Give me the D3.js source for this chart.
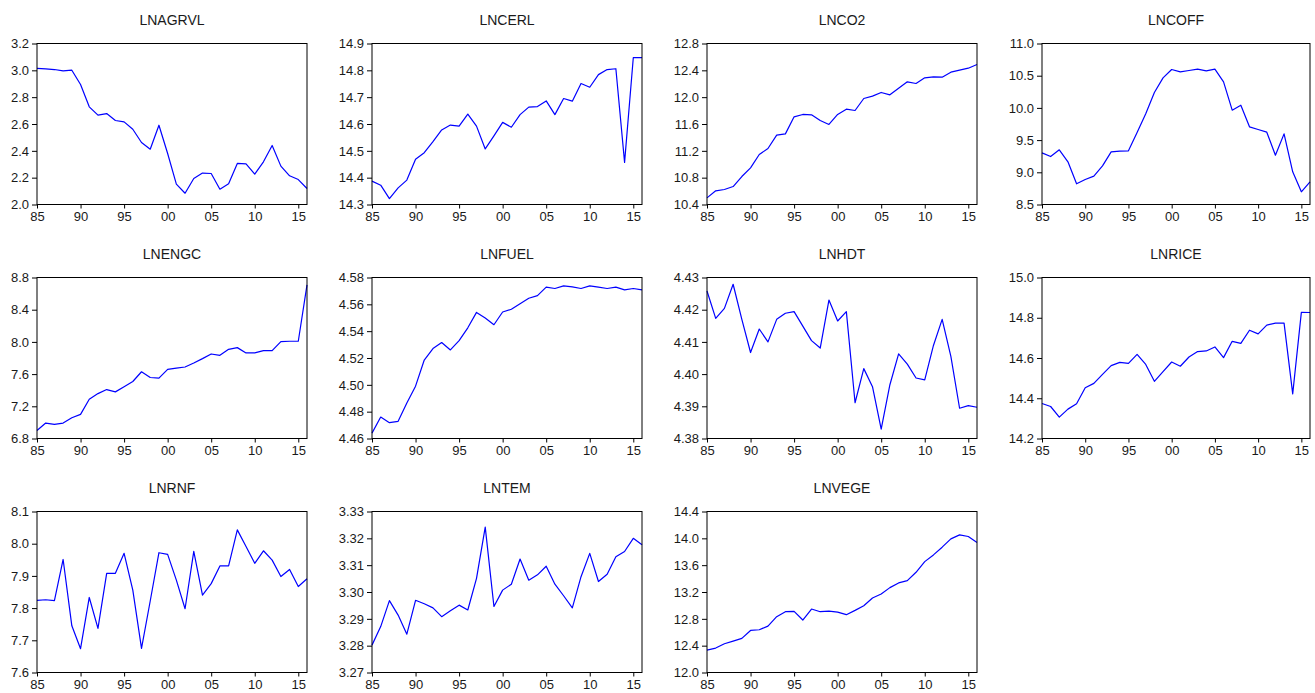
<!DOCTYPE html>
<html>
<head>
<meta charset="utf-8">
<script src="https://cdn.jsdelivr.net/npm/d3@7"></script>
<style>
  html, body { margin: 0; padding: 0; background: #fff; }
  svg text { font-family: "Liberation Sans", Arial, sans-serif; fill: #1a1a1a; }
</style>
</head>
<body>
<svg id="chart" width="1315" height="693"></svg>
<script>
// Annual observations, 1985-2016
const years = d3.range(1985, 2017);
const yearTicks = [1985, 1990, 1995, 2000, 2005, 2010, 2015];

const lnagrvl = [3.014, 3.011, 3.006, 2.996, 3.001, 2.894, 2.728, 2.666, 2.678, 2.626, 2.616, 2.561, 2.462, 2.412, 2.591, 2.380,
  2.152, 2.084, 2.194, 2.234, 2.231, 2.114, 2.154, 2.306, 2.303, 2.226, 2.318, 2.440, 2.286, 2.214, 2.186, 2.119];
const lncerl = [14.387, 14.372, 14.322, 14.362, 14.391, 14.469, 14.493, 14.534, 14.578, 14.596, 14.592, 14.637, 14.592, 14.507, 14.556, 14.606,
  14.588, 14.635, 14.663, 14.665, 14.686, 14.635, 14.695, 14.685, 14.751, 14.737, 14.784, 14.803, 14.806, 14.457, 14.847, 14.847];
const lnco2 = [10.499, 10.604, 10.624, 10.668, 10.817, 10.947, 11.145, 11.235, 11.434, 11.453, 11.707, 11.742, 11.737, 11.652, 11.593, 11.742,
  11.821, 11.801, 11.980, 12.015, 12.070, 12.035, 12.134, 12.229, 12.204, 12.288, 12.303, 12.298, 12.373, 12.402, 12.432, 12.487];
const lncoff = [9.302, 9.245, 9.349, 9.163, 8.821, 8.888, 8.940, 9.100, 9.318, 9.328, 9.333, 9.618, 9.908, 10.239, 10.467, 10.596,
  10.560, 10.581, 10.601, 10.575, 10.601, 10.405, 9.965, 10.042, 9.706, 9.665, 9.623, 9.266, 9.597, 9.007, 8.697, 8.852];
const lnengc = [6.900, 6.992, 6.975, 6.992, 7.058, 7.100, 7.288, 7.358, 7.408, 7.379, 7.442, 7.508, 7.629, 7.558, 7.550, 7.658,
  7.675, 7.688, 7.738, 7.792, 7.850, 7.833, 7.908, 7.929, 7.863, 7.863, 7.892, 7.892, 8.004, 8.008, 8.008, 8.708];
const lnfuel = [4.4640, 4.4760, 4.4718, 4.4728, 4.4865, 4.4990, 4.5185, 4.5270, 4.5315, 4.5260, 4.5330, 4.5425, 4.5540, 4.5498, 4.5448, 4.5543,
  4.5563, 4.5605, 4.5645, 4.5665, 4.5728, 4.5718, 4.5738, 4.5730, 4.5718, 4.5738, 4.5728, 4.5718, 4.5728, 4.5708, 4.5718, 4.5708];
const lnhdt = [4.4258, 4.4173, 4.4204, 4.4279, 4.4170, 4.4067, 4.4140, 4.4100, 4.4170, 4.4189, 4.4194, 4.4149, 4.4104, 4.4081, 4.4230, 4.4165,
  4.4194, 4.3911, 4.4017, 4.3961, 4.3829, 4.3967, 4.4063, 4.4031, 4.3988, 4.3982, 4.4089, 4.4170, 4.4055, 4.3894, 4.3902, 4.3897];
const lnrice = [14.374, 14.359, 14.306, 14.346, 14.373, 14.452, 14.474, 14.519, 14.562, 14.578, 14.573, 14.618, 14.568, 14.484, 14.532, 14.580,
  14.559, 14.605, 14.632, 14.635, 14.655, 14.602, 14.683, 14.673, 14.738, 14.720, 14.763, 14.773, 14.773, 14.422, 14.827, 14.826];
const lnrnf = [7.824, 7.826, 7.823, 7.951, 7.745, 7.674, 7.833, 7.737, 7.908, 7.908, 7.970, 7.856, 7.675, 7.822, 7.972, 7.967,
  7.887, 7.798, 7.976, 7.840, 7.876, 7.931, 7.931, 8.043, 7.991, 7.939, 7.978, 7.949, 7.898, 7.920, 7.867, 7.891];
const lntem = [3.2802, 3.2871, 3.2968, 3.2914, 3.2843, 3.2969, 3.2956, 3.2941, 3.2908, 3.2930, 3.2951, 3.2933, 3.3051, 3.3242, 3.2946, 3.3007,
  3.3029, 3.3123, 3.3044, 3.3064, 3.3096, 3.3029, 3.2986, 3.2941, 3.3057, 3.3144, 3.3039, 3.3066, 3.3131, 3.3151, 3.3200, 3.3176];
const lnvege = [12.334, 12.364, 12.428, 12.468, 12.508, 12.627, 12.637, 12.692, 12.832, 12.906, 12.911, 12.782, 12.946, 12.906, 12.916, 12.901,
  12.862, 12.926, 12.996, 13.111, 13.170, 13.265, 13.335, 13.370, 13.494, 13.653, 13.753, 13.868, 13.992, 14.052, 14.027, 13.937];

// Y-axis tick labels for each series
const ticksAgrvl = ["2.0", "2.2", "2.4", "2.6", "2.8", "3.0", "3.2"];
const ticksCerl = ["14.3", "14.4", "14.5", "14.6", "14.7", "14.8", "14.9"];
const ticksCo2 = ["10.4", "10.8", "11.2", "11.6", "12.0", "12.4", "12.8"];
const ticksCoff = ["8.5", "9.0", "9.5", "10.0", "10.5", "11.0"];
const ticksEngc = ["6.8", "7.2", "7.6", "8.0", "8.4", "8.8"];
const ticksFuel = ["4.46", "4.48", "4.50", "4.52", "4.54", "4.56", "4.58"];
const ticksHdt = ["4.38", "4.39", "4.40", "4.41", "4.42", "4.43"];
const ticksRice = ["14.2", "14.4", "14.6", "14.8", "15.0"];
const ticksRnf = ["7.6", "7.7", "7.8", "7.9", "8.0", "8.1"];
const ticksTem = ["3.27", "3.28", "3.29", "3.30", "3.31", "3.32", "3.33"];
const ticksVege = ["12.0", "12.4", "12.8", "13.2", "13.6", "14.0", "14.4"];

const panels = [
  { name: "LNAGRVL", values: lnagrvl, ticks: ticksAgrvl },
  { name: "LNCERL", values: lncerl, ticks: ticksCerl },
  { name: "LNCO2", values: lnco2, ticks: ticksCo2 },
  { name: "LNCOFF", values: lncoff, ticks: ticksCoff },
  { name: "LNENGC", values: lnengc, ticks: ticksEngc },
  { name: "LNFUEL", values: lnfuel, ticks: ticksFuel },
  { name: "LNHDT", values: lnhdt, ticks: ticksHdt },
  { name: "LNRICE", values: lnrice, ticks: ticksRice },
  { name: "LNRNF", values: lnrnf, ticks: ticksRnf },
  { name: "LNTEM", values: lntem, ticks: ticksTem },
  { name: "LNVEGE", values: lnvege, ticks: ticksVege }
];

// Grid layout: 4 columns x 3 rows of small multiples
const colLeft = [37, 372, 707, 1042];
const colWidth = [270, 270, 270, 268];
const rowTop = [43.5, 277.5, 511.5];
const plotH = 161;

const svg = d3.select("#chart");

panels.forEach((p, i) => {
  const c = i % 4, r = Math.floor(i / 4);
  const w = colWidth[c];
  const g = svg.append("g").attr("transform", `translate(${colLeft[c]},${rowTop[r]})`);

  const tickNums = p.ticks.map(Number);
  const x = d3.scaleLinear().domain([1985, 2016]).range([0, w]);
  const y = d3.scaleLinear().domain(d3.extent(tickNums)).range([plotH, 0]);

  // y axis
  const yAxis = d3.axisLeft(y)
    .tickValues(tickNums)
    .tickFormat((d, k) => p.ticks[k])
    .tickSize(5)
    .tickPadding(3);
  const ya = g.append("g").call(yAxis);
  ya.select(".domain").remove();
  ya.selectAll("line").attr("stroke", "#000");
  ya.selectAll("text").style("font-size", "13px").attr("fill", "#1a1a1a");

  // x axis
  const xAxis = d3.axisBottom(x)
    .tickValues(yearTicks)
    .tickFormat(d => d3.format("02d")(d % 100))
    .tickSize(4)
    .tickPadding(3);
  const xa = g.append("g").attr("transform", `translate(0,${plotH})`).call(xAxis);
  xa.select(".domain").remove();
  xa.selectAll("line").attr("stroke", "#000");
  xa.selectAll("text").style("font-size", "13px").attr("fill", "#1a1a1a");

  // series line
  const line = d3.line()
    .x((d, k) => x(years[k]))
    .y(d => y(d));
  g.append("path")
    .datum(p.values)
    .attr("d", line)
    .attr("fill", "none")
    .attr("stroke", "#0000ff")
    .attr("stroke-width", 1.2)
    .attr("stroke-linejoin", "round");

  // frame
  g.append("rect")
    .attr("x", 0).attr("y", 0)
    .attr("width", w).attr("height", plotH)
    .attr("fill", "none")
    .attr("stroke", "#000")
    .attr("stroke-width", 1);

  // title
  g.append("text")
    .attr("x", w / 2)
    .attr("y", -19)
    .attr("text-anchor", "middle")
    .style("font-size", "14px")
    .text(p.name);
});
</script>
</body>
</html>
